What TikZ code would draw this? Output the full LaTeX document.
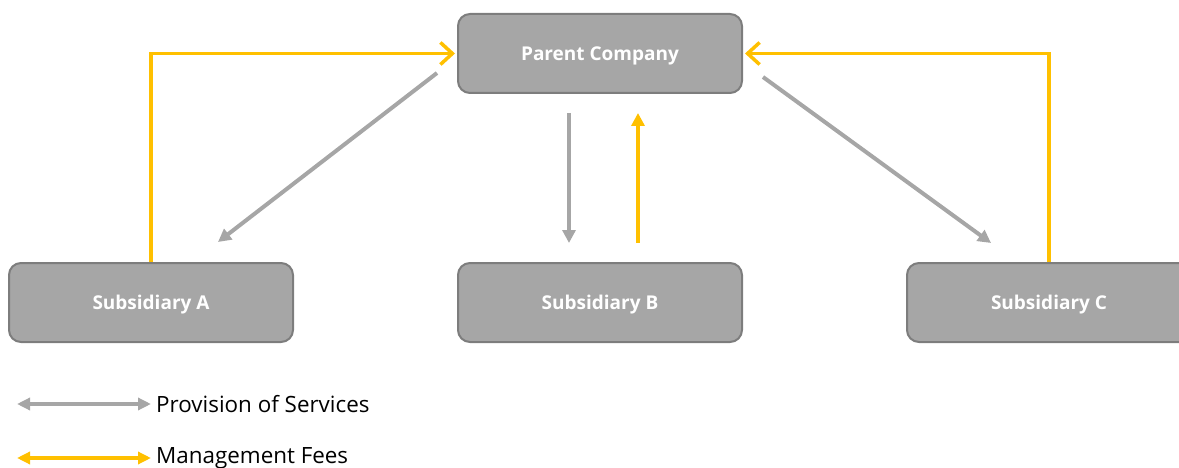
\documentclass[tikz,border=0pt]{standalone}
\usepackage{fontspec}
\setmainfont{Open Sans}
\usetikzlibrary{arrows.meta}
\definecolor{boxfill}{RGB}{166,166,166}
\definecolor{boxline}{RGB}{125,125,125}
\definecolor{svc}{RGB}{166,166,166}
\definecolor{fee}{RGB}{255,192,0}
\tikzset{
  entity/.style={draw=boxline, fill=boxfill, line width=2pt, rounded corners=12pt,
    minimum width=284pt, minimum height=79pt, inner sep=0pt, text=white,
    text height=17pt, text depth=3pt,
    font=\fontsize{19}{21}\selectfont\bfseries},
  svcarrow/.style={draw=svc, line width=4pt, -{Triangle[length=13pt,width=13pt]}},
  feearrow/.style={draw=fee, line width=3.5pt, -{Triangle[length=13pt,width=13pt]}},
  feeopen/.style={draw=fee, line width=3.5pt, -{Straight Barb[length=12pt,width=22pt,line width=3.5pt]}},
  legtext/.style={anchor=west, inner sep=0pt, font=\fontsize{22.4}{25}\selectfont}
}
\begin{document}
\begin{tikzpicture}[x=1pt,y=-1pt]
\useasboundingbox (0,0) rectangle (1179,468);
\begin{scope}
\clip (0,0) rectangle (1179,468);
\node[entity] (P) at (600,53.5) {Parent Company};
\node[entity] (A) at (151,302.5) {Subsidiary A};
\node[entity] (B) at (600,302.5) {Subsidiary B};
\node[entity] (C) at (1049,302.5) {Subsidiary C};
\end{scope}
% connector end points
\coordinate (pa1) at (437,73);
\coordinate (pa2) at (218,242);
\coordinate (pc1) at (763,77);
\coordinate (pc2) at (991,243);
\coordinate (pb1) at (569,113);
\coordinate (pb2) at (569,243);
\coordinate (bp1) at (638,243);
\coordinate (bp2) at (638,113);
% management fees (A and C to parent)
\draw[feeopen] (A.north) -- (A.north |- P.west) -- ([xshift=-2pt]P.west);
\draw[feeopen] (C.north) -- (C.north |- P.east) -- ([xshift=2pt]P.east);
% provision of services
\draw[svcarrow] (pa1) -- (pa2);
\draw[svcarrow] (pc1) -- (pc2);
\draw[svcarrow] (pb1) -- (pb2);
\draw[feearrow] (bp1) -- (bp2);
% legend
\coordinate (l1a) at (17,404);
\coordinate (l1b) at (151,404);
\coordinate (l2a) at (17,458);
\coordinate (l2b) at (151,458);
\draw[draw=svc, line width=3.5pt, {Triangle[length=13pt,width=12pt]}-{Triangle[length=13pt,width=12pt]}] (l1a) -- (l1b);
\draw[draw=fee, line width=3.5pt, {Triangle[length=13pt,width=12pt]}-{Triangle[length=13pt,width=12pt]}] (l2a) -- (l2b);
\node[legtext] (t1) at (156,404) {Provision of Services};
\node[legtext] (t2) at (156,458) {Management Fees};
\end{tikzpicture}
\end{document}
